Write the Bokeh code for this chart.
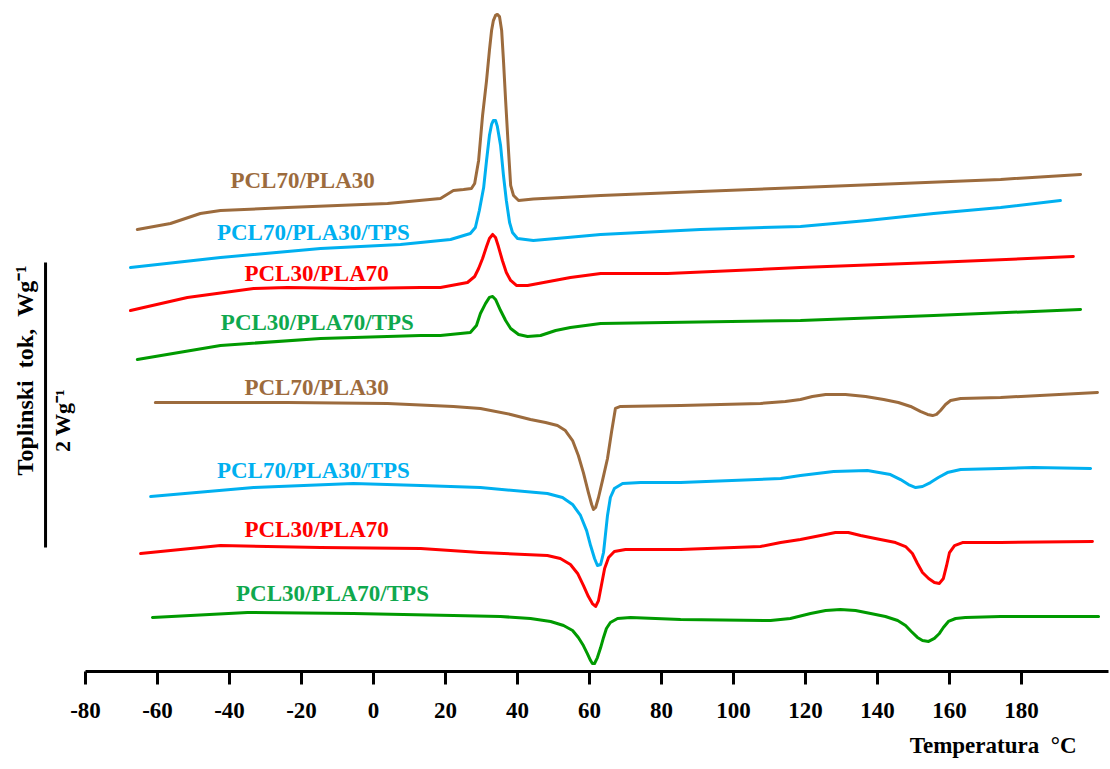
import math
from bokeh.plotting import figure
from bokeh.models import Range1d, Label, FixedTicker, Title
from bokeh.embed import file_html
from bokeh.resources import INLINE

# ---------------- data (temperature in degC, heat flow in W/g, curves vertically offset) -------------
tick_values = [-80, -60, -40, -20, 0, 20, 40, 60, 80, 100, 120, 140, 160, 180]

# cooling curves (crystallisation exotherms)
cool_pcl70_pla30_T = [-65.6, -56.4, -48.1, -42.5, -23.9, 3.9, 18.6, 22.2, 25.0, 27.2, 28.1, 29.2, 30.3, 31.4, 32.2,
                      32.8, 33.3, 33.9, 34.4, 35.0, 35.6, 36.1, 36.7, 37.5, 38.1, 38.9, 40.3, 44.4, 63.1, 90.8,
                      118.6, 146.4, 174.2, 196.4]
cool_pcl70_pla30_q = [3.102, 3.144, 3.214, 3.235, 3.256, 3.284, 3.319, 3.375, 3.382, 3.389, 3.425, 3.586, 3.902, 4.147,
                      4.358, 4.498, 4.568, 4.604, 4.611, 4.596, 4.498, 4.288, 4.007, 3.656, 3.411, 3.340, 3.305,
                      3.316, 3.340, 3.368, 3.396, 3.425, 3.453, 3.488]

cool_pcl70_pla30_tps_T = [-67.5, -42.5, -14.7, 7.5, 21.4, 26.9, 28.3, 29.4, 30.6, 31.4, 32.2, 32.8, 33.3, 33.9, 34.4,
                          35.3, 36.1, 36.9, 37.8, 38.6, 40.0, 44.4, 53.9, 63.1, 90.8, 118.6, 137.2, 155.6, 174.2, 190.8]
cool_pcl70_pla30_tps_q = [2.835, 2.905, 2.968, 2.996, 3.032, 3.074, 3.116, 3.235, 3.396, 3.586, 3.761, 3.839, 3.867,
                          3.867, 3.825, 3.691, 3.481, 3.305, 3.151, 3.081, 3.039, 3.025, 3.046, 3.067, 3.102, 3.123,
                          3.165, 3.214, 3.256, 3.305]

cool_pcl30_pla70_T = [-67.5, -51.7, -33.3, -23.9, -5.6, 13.1, 18.6, 26.1, 28.1, 29.2, 30.3, 31.4, 32.2, 33.1, 33.9,
                      34.7, 35.8, 36.9, 38.1, 39.7, 42.8, 54.7, 63.1, 81.7, 118.6, 155.6, 194.4]
cool_pcl30_pla70_q = [2.533, 2.625, 2.688, 2.695, 2.688, 2.695, 2.695, 2.730, 2.772, 2.828, 2.898, 2.982, 3.039, 3.067,
                      3.046, 2.982, 2.884, 2.800, 2.744, 2.709, 2.709, 2.765, 2.793, 2.793, 2.835, 2.870, 2.912]

cool_pcl30_pla70_tps_T = [-65.6, -42.5, -14.7, 13.1, 18.6, 26.9, 28.6, 29.7, 31.1, 32.2, 33.1, 33.9, 35.3, 36.7, 38.1,
                          40.3, 42.8, 46.4, 50.6, 54.7, 63.1, 118.6, 155.6, 196.4]
cool_pcl30_pla70_tps_q = [2.189, 2.288, 2.337, 2.358, 2.358, 2.379, 2.428, 2.512, 2.582, 2.625, 2.632, 2.611, 2.533,
                          2.463, 2.407, 2.365, 2.351, 2.358, 2.393, 2.414, 2.442, 2.463, 2.498, 2.540]

# heating curves (melting endotherms)
heat_pcl70_pla30_T = [-60.6, -23.9, 3.9, 22.2, 29.7, 38.1, 43.6, 47.8, 51.1, 53.3, 55.3, 56.9, 58.3, 59.7, 60.6,
                      61.1, 61.7, 62.5, 63.6, 65.0, 66.1, 67.2, 68.6, 85.3, 107.5, 114.4, 118.6, 121.9, 125.6, 131.1,
                      136.7, 141.7, 145.8, 149.2, 151.9, 153.9, 155.3, 156.4, 157.5, 158.9, 160.3, 163.1, 174.2, 201.1]
heat_pcl70_pla30_q = [1.888, 1.888, 1.881, 1.860, 1.846, 1.804, 1.768, 1.747, 1.726, 1.691, 1.621, 1.516, 1.396, 1.256,
                      1.172, 1.137, 1.151, 1.221, 1.340, 1.495, 1.677, 1.846, 1.860, 1.867, 1.881, 1.895, 1.909, 1.930,
                      1.944, 1.944, 1.930, 1.909, 1.888, 1.860, 1.825, 1.804, 1.796, 1.804, 1.832, 1.874, 1.902, 1.916,
                      1.923, 1.958]

heat_pcl70_pla30_tps_T = [-61.9, -33.3, -5.6, 13.1, 29.7, 48.3, 52.5, 55.3, 57.5, 59.2, 60.3, 61.4, 62.2, 63.1, 63.9,
                          64.4, 65.0, 65.8, 66.9, 69.2, 74.2, 85.3, 113.1, 118.6, 127.8, 137.2, 143.6, 146.4, 148.6,
                          150.6, 152.5, 154.7, 156.9, 159.4, 163.1, 174.2, 183.3, 199.2]
heat_pcl70_pla30_tps_q = [1.228, 1.291, 1.319, 1.305, 1.291, 1.249, 1.221, 1.172, 1.095, 0.989, 0.884, 0.793, 0.744,
                          0.751, 0.835, 0.954, 1.095, 1.221, 1.284, 1.319, 1.326, 1.326, 1.354, 1.375, 1.404, 1.411,
                          1.382, 1.347, 1.312, 1.291, 1.298, 1.326, 1.361, 1.396, 1.418, 1.425, 1.432, 1.425]

heat_pcl30_pla70_T = [-64.7, -42.5, -14.7, 13.1, 29.7, 48.3, 51.9, 54.7, 56.7, 58.3, 59.7, 60.8, 61.7, 62.5, 63.3,
                      64.2, 65.3, 66.9, 70.0, 85.3, 107.5, 113.1, 118.6, 124.2, 128.3, 131.9, 135.3, 139.4, 145.0,
                      147.8, 149.7, 151.1, 152.5, 154.2, 155.8, 157.2, 158.3, 159.2, 160.0, 161.4, 163.6, 174.2, 199.7]
heat_pcl30_pla70_q = [0.828, 0.884, 0.870, 0.863, 0.835, 0.814, 0.793, 0.751, 0.688, 0.604, 0.526, 0.477, 0.456, 0.498,
                      0.604, 0.723, 0.800, 0.842, 0.856, 0.856, 0.877, 0.905, 0.926, 0.954, 0.975, 0.975, 0.954, 0.933,
                      0.905, 0.877, 0.828, 0.758, 0.695, 0.653, 0.625, 0.618, 0.653, 0.744, 0.835, 0.884, 0.905,
                      0.905, 0.912]

heat_pcl30_pla70_tps_T = [-61.4, -35.0, -5.6, 22.2, 35.3, 43.6, 49.2, 52.8, 55.3, 56.9, 58.3, 59.4, 60.3, 60.8, 61.4,
                          62.2, 63.1, 63.9, 64.7, 65.8, 67.8, 71.4, 85.3, 110.3, 115.8, 121.4, 125.6, 129.7, 133.9,
                          138.1, 142.2, 145.6, 147.8, 149.4, 151.1, 152.5, 154.2, 155.8, 157.2, 158.3, 159.7, 161.7,
                          164.4, 174.2, 201.4]
heat_pcl30_pla70_tps_q = [0.379, 0.414, 0.407, 0.393, 0.386, 0.372, 0.351, 0.323, 0.288, 0.239, 0.182, 0.126, 0.077,
                          0.056, 0.056, 0.098, 0.168, 0.239, 0.302, 0.344, 0.372, 0.379, 0.365, 0.358, 0.372, 0.407,
                          0.428, 0.435, 0.428, 0.407, 0.386, 0.358, 0.323, 0.281, 0.239, 0.218, 0.211, 0.232, 0.267,
                          0.309, 0.351, 0.372, 0.379, 0.386, 0.386]

series_names = ["PCL70/PLA30", "PCL70/PLA30/TPS", "PCL30/PLA70", "PCL30/PLA70/TPS"]

# ---------------- styling ----------------
BROWN = "#9c6b3d"
BLUE = "#00b0f0"
RED = "#ff0000"
GREEN_LINE = "#009a00"
GREEN_TEXT = "#0fa84e"
FONT = "Liberation Serif"

PX_PER_C = 3.6
X0_PAGE = 373.0
FRAME_LEFT, FRAME_RIGHT = 10.0, 1108.0
x_start = (FRAME_LEFT - X0_PAGE) / PX_PER_C
x_end = (FRAME_RIGHT - X0_PAGE) / PX_PER_C
PX_PER_WG = 142.5
y_end = 661.0 / PX_PER_WG

p = figure(width=1110, height=769, output_backend="svg", toolbar_location=None,
           x_range=Range1d(x_start, x_end), y_range=Range1d(0, y_end),
           y_axis_location=None,
           min_border_left=10, min_border_right=2, min_border_top=10, min_border_bottom=98)
p.outline_line_color = None
p.xgrid.visible = False
p.ygrid.visible = False
p.background_fill_color = "white"
p.border_fill_color = "white"

ax = p.xaxis[0]
ax.ticker = FixedTicker(ticks=tick_values)
ax.major_label_overrides = {v: str(v) for v in tick_values}
ax.bounds = (-80, x_end)
ax.axis_line_width = 3
ax.axis_line_color = "black"
ax.major_tick_line_width = 3
ax.major_tick_out = 13
ax.major_tick_in = 0
ax.minor_tick_line_color = None
ax.major_label_standoff = 18
ax.major_label_text_font = FONT
ax.major_label_text_font_style = "bold"
ax.major_label_text_font_size = "23px"
ax.major_label_text_color = "black"

curves = [
    (cool_pcl70_pla30_T, cool_pcl70_pla30_q, BROWN),
    (cool_pcl70_pla30_tps_T, cool_pcl70_pla30_tps_q, BLUE),
    (cool_pcl30_pla70_T, cool_pcl30_pla70_q, RED),
    (cool_pcl30_pla70_tps_T, cool_pcl30_pla70_tps_q, GREEN_LINE),
    (heat_pcl70_pla30_T, heat_pcl70_pla30_q, BROWN),
    (heat_pcl70_pla30_tps_T, heat_pcl70_pla30_tps_q, BLUE),
    (heat_pcl30_pla70_T, heat_pcl30_pla70_q, RED),
    (heat_pcl30_pla70_tps_T, heat_pcl30_pla70_tps_q, GREEN_LINE),
]
for xs, ys, c in curves:
    p.line(xs, ys, line_color=c, line_width=3, line_join="round", line_cap="round")

text_colors = [BROWN, BLUE, RED, GREEN_TEXT]
label_pos = [(-19.7, 3.446), (-16.7, 3.081), (-15.8, 2.793), (-15.6, 2.449),
             (-15.8, 1.993), (-16.7, 1.411), (-15.8, 0.996), (-11.4, 0.547)]
for i, (lx, ly) in enumerate(label_pos):
    p.add_layout(Label(x=lx, y=ly, text=series_names[i % 4], text_color=text_colors[i % 4],
                       text_font=FONT, text_font_style="bold", text_font_size="23px",
                       text_align="center", text_baseline="middle"))

# heat-flow scale bar (2 W/g)
p.line([-91.1, -91.1], [0.870, 2.870], line_color="black", line_width=3)
p.add_layout(Label(x=-96.9, y=2.112, text="Toplinski\u00a0\u00a0tok,\u00a0\u00a0Wg⁻¹", angle=math.pi / 2,
                   text_font=FONT, text_font_style="bold", text_font_size="24px",
                   text_color="black", text_align="center", text_baseline="middle"))
p.add_layout(Label(x=-86.4, y=1.761, text="2 Wg⁻¹", angle=math.pi / 2,
                   text_font=FONT, text_font_style="bold", text_font_size="22px",
                   text_color="black", text_align="center", text_baseline="middle"))

p.add_layout(Title(text="Temperatura\u00a0\u00a0°C", align="right", offset=32, standoff=20,
                   text_font=FONT, text_font_style="bold", text_font_size="23px",
                   text_color="black"), "below")

open("out.html", "w").write(file_html(p, INLINE))
